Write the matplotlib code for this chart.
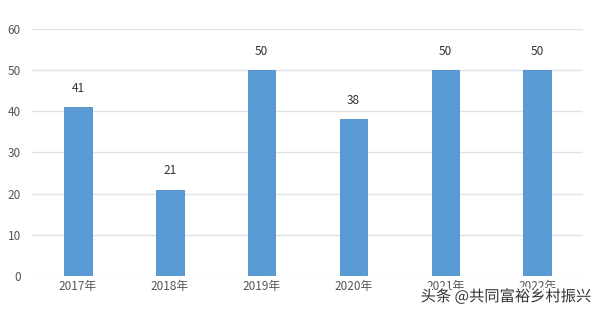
import matplotlib
matplotlib.use("Agg")
import matplotlib.pyplot as plt
import matplotlib.patheffects as pe

plt.rcParams['font.family'] = ['Noto Sans CJK SC', 'DejaVu Sans']

years = ["2017年", "2018年", "2019年", "2020年", "2021年", "2022年"]
values = [41, 21, 50, 38, 50, 50]

fig = plt.figure(figsize=(6, 3.14), dpi=100)
ax = fig.add_axes([0.0533, 0.121, 0.9187, 0.787])

x = range(len(years))
ax.bar(x, values, width=0.3, color="#5B9BD5", edgecolor="#4F8CC6", linewidth=0.6, zorder=3)
for xi, v in zip(x, values):
    ax.text(xi, v + 3, str(v), ha="center", va="bottom", fontsize=8.5, color="#333333")

ax.set_xlim(-0.5, len(years) - 0.5)
ax.set_ylim(0, 60)
ax.set_yticks(range(0, 61, 10))
ax.set_xticks(list(x))
ax.set_xticklabels(years)
ax.tick_params(axis="both", length=0, labelsize=8.5, colors="#555555")
ax.tick_params(axis="y", pad=8)
ax.tick_params(axis="x", pad=3)
ax.grid(axis="y", color="#DCE3EC", linewidth=1.0, zorder=0)
for s in ax.spines.values():
    s.set_visible(False)

fig.text(0.985, 0.055, "头条 @共同富裕乡村振兴", ha="right", va="center", fontsize=11, color="#333333",
         path_effects=[pe.withStroke(linewidth=3, foreground="white")])

fig.savefig("out.png", dpi=100, facecolor="white")
